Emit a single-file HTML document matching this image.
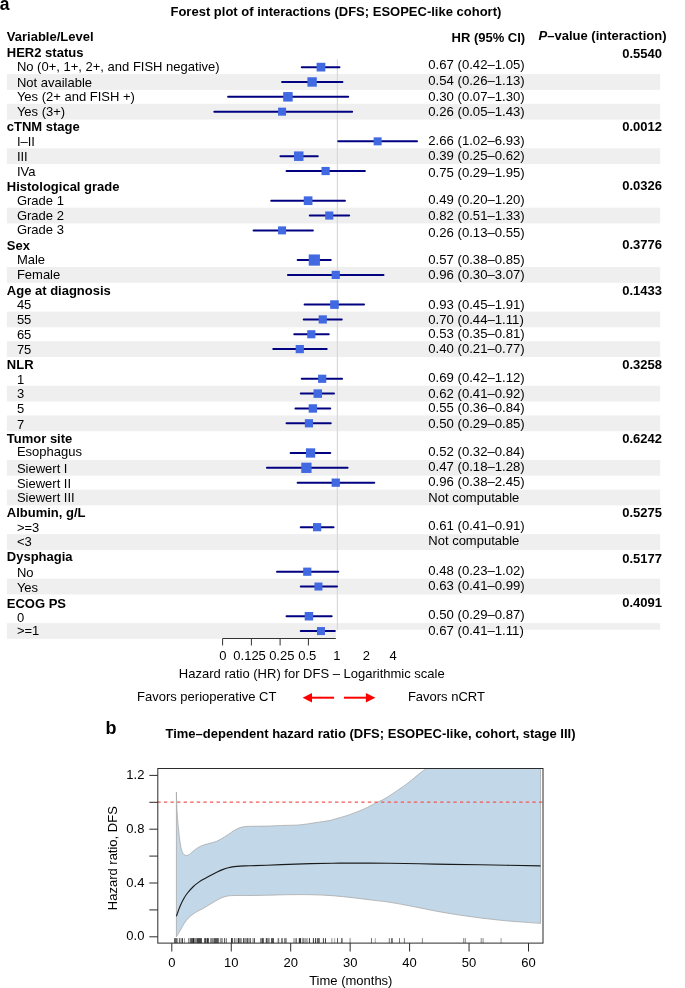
<!DOCTYPE html><html><head><meta charset="utf-8"><style>html,body{margin:0;padding:0;background:#fff;}svg{display:block}text{font-family:"Liberation Sans",sans-serif;}svg{will-change:transform;-webkit-font-smoothing:antialiased;}</style></head><body>
<svg width="685" height="988" viewBox="0 0 685 988">
<rect width="685" height="988" fill="#fff"/>
<rect x="6.86" y="74.10" width="653.34" height="15.76" fill="#efefef"/>
<rect x="6.86" y="103.78" width="653.34" height="15.76" fill="#efefef"/>
<rect x="6.86" y="148.30" width="653.34" height="15.76" fill="#efefef"/>
<rect x="6.86" y="207.66" width="653.34" height="15.76" fill="#efefef"/>
<rect x="6.86" y="267.02" width="653.34" height="15.76" fill="#efefef"/>
<rect x="6.86" y="311.54" width="653.34" height="15.76" fill="#efefef"/>
<rect x="6.86" y="341.22" width="653.34" height="15.76" fill="#efefef"/>
<rect x="6.86" y="385.74" width="653.34" height="15.76" fill="#efefef"/>
<rect x="6.86" y="415.42" width="653.34" height="15.76" fill="#efefef"/>
<rect x="6.86" y="459.94" width="653.34" height="15.76" fill="#efefef"/>
<rect x="6.86" y="489.62" width="653.34" height="15.76" fill="#efefef"/>
<rect x="6.86" y="534.14" width="653.34" height="15.76" fill="#efefef"/>
<rect x="6.86" y="578.66" width="653.34" height="15.76" fill="#efefef"/>
<rect x="6.86" y="623.18" width="328.94" height="15.62" fill="#efefef"/>
<rect x="335.8" y="623.18" width="324.40" height="6.52" fill="#efefef"/>
<line x1="337.4" y1="59.4" x2="337.4" y2="629.7" stroke="#d9d9d9" stroke-width="1.2"/>
<text x="-0.3" y="10.3" font-size="17.5" font-weight="bold">a</text>
<text x="335.9" y="15.8" font-size="13" font-weight="bold" text-anchor="middle">Forest plot of interactions (DFS; ESOPEC-like cohort)</text>
<text x="6.8" y="41.3" font-size="13" font-weight="bold">Variable/Level</text>
<text x="525.2" y="41.6" font-size="13" font-weight="bold" text-anchor="end">HR (95% CI)</text>
<text x="538.6" y="40.0" font-size="13" font-weight="bold"><tspan font-style="italic">P</tspan>–value (interaction)</text>
<text x="6.8" y="56.9" font-size="13" font-weight="bold">HER2 status</text>
<text x="662.0" y="57.6" font-size="13" font-weight="bold" text-anchor="end">0.5540</text>
<text x="16.9" y="70.7" font-size="13">No (0+, 1+, 2+, and FISH negative)</text>
<text x="428.3" y="68.6" font-size="13.15">0.67 (0.42–1.05)</text>
<text x="16.9" y="86.8" font-size="13">Not available</text>
<text x="428.3" y="84.8" font-size="13.15">0.54 (0.26–1.13)</text>
<text x="16.9" y="100.5" font-size="13">Yes (2+ and FISH +)</text>
<text x="428.3" y="100.5" font-size="13.15">0.30 (0.07–1.30)</text>
<text x="16.9" y="115.5" font-size="13">Yes (3+)</text>
<text x="428.3" y="115.7" font-size="13.15">0.26 (0.05–1.43)</text>
<text x="6.8" y="131.3" font-size="13" font-weight="bold">cTNM stage</text>
<text x="662.0" y="131.1" font-size="13" font-weight="bold" text-anchor="end">0.0012</text>
<text x="16.9" y="145.9" font-size="13">I–II</text>
<text x="428.3" y="144.8" font-size="13.15">2.66 (1.02–6.93)</text>
<text x="16.9" y="160.9" font-size="13">III</text>
<text x="428.3" y="159.6" font-size="13.15">0.39 (0.25–0.62)</text>
<text x="16.9" y="175.6" font-size="13">IVa</text>
<text x="428.3" y="176.7" font-size="13.15">0.75 (0.29–1.95)</text>
<text x="6.8" y="190.7" font-size="13" font-weight="bold">Histological grade</text>
<text x="662.0" y="190.2" font-size="13" font-weight="bold" text-anchor="end">0.0326</text>
<text x="16.9" y="204.7" font-size="13">Grade 1</text>
<text x="428.3" y="203.7" font-size="13.15">0.49 (0.20–1.20)</text>
<text x="16.9" y="219.7" font-size="13">Grade 2</text>
<text x="428.3" y="219.6" font-size="13.15">0.82 (0.51–1.33)</text>
<text x="16.9" y="234.4" font-size="13">Grade 3</text>
<text x="428.3" y="236.6" font-size="13.15">0.26 (0.13–0.55)</text>
<text x="6.8" y="249.6" font-size="13" font-weight="bold">Sex</text>
<text x="662.0" y="249.4" font-size="13" font-weight="bold" text-anchor="end">0.3776</text>
<text x="16.9" y="264.1" font-size="13">Male</text>
<text x="428.3" y="263.8" font-size="13.15">0.57 (0.38–0.85)</text>
<text x="16.9" y="279.3" font-size="13">Female</text>
<text x="428.3" y="278.6" font-size="13.15">0.96 (0.30–3.07)</text>
<text x="6.8" y="294.6" font-size="13" font-weight="bold">Age at diagnosis</text>
<text x="662.0" y="295.2" font-size="13" font-weight="bold" text-anchor="end">0.1433</text>
<text x="16.9" y="309.0" font-size="13">45</text>
<text x="428.3" y="308.8" font-size="13.15">0.93 (0.45–1.91)</text>
<text x="16.9" y="323.7" font-size="13">55</text>
<text x="428.3" y="323.6" font-size="13.15">0.70 (0.44–1.11)</text>
<text x="16.9" y="338.8" font-size="13">65</text>
<text x="428.3" y="337.7" font-size="13.15">0.53 (0.35–0.81)</text>
<text x="16.9" y="354.0" font-size="13">75</text>
<text x="428.3" y="353.2" font-size="13.15">0.40 (0.21–0.77)</text>
<text x="6.8" y="368.7" font-size="13" font-weight="bold">NLR</text>
<text x="662.0" y="368.9" font-size="13" font-weight="bold" text-anchor="end">0.3258</text>
<text x="16.9" y="383.6" font-size="13">1</text>
<text x="428.3" y="381.9" font-size="13.15">0.69 (0.42–1.12)</text>
<text x="16.9" y="398.0" font-size="13">3</text>
<text x="428.3" y="397.7" font-size="13.15">0.62 (0.41–0.92)</text>
<text x="16.9" y="413.2" font-size="13">5</text>
<text x="428.3" y="412.1" font-size="13.15">0.55 (0.36–0.84)</text>
<text x="16.9" y="428.6" font-size="13">7</text>
<text x="428.3" y="427.7" font-size="13.15">0.50 (0.29–0.85)</text>
<text x="6.8" y="443.3" font-size="13" font-weight="bold">Tumor site</text>
<text x="662.0" y="443.0" font-size="13" font-weight="bold" text-anchor="end">0.6242</text>
<text x="16.9" y="456.4" font-size="13">Esophagus</text>
<text x="428.3" y="456.1" font-size="13.15">0.52 (0.32–0.84)</text>
<text x="16.9" y="472.9" font-size="13">Siewert I</text>
<text x="428.3" y="471.2" font-size="13.15">0.47 (0.18–1.28)</text>
<text x="16.9" y="487.5" font-size="13">Siewert II</text>
<text x="428.3" y="486.1" font-size="13.15">0.96 (0.38–2.45)</text>
<text x="16.9" y="502.4" font-size="13">Siewert III</text>
<text x="428.3" y="501.6" font-size="13">Not computable</text>
<text x="6.8" y="516.8" font-size="13" font-weight="bold">Albumin, g/L</text>
<text x="662.0" y="517.2" font-size="13" font-weight="bold" text-anchor="end">0.5275</text>
<text x="16.9" y="531.5" font-size="13">&gt;=3</text>
<text x="428.3" y="530.4" font-size="13.15">0.61 (0.41–0.91)</text>
<text x="16.9" y="545.7" font-size="13">&lt;3</text>
<text x="428.3" y="544.5" font-size="13">Not computable</text>
<text x="6.8" y="560.7" font-size="13" font-weight="bold">Dysphagia</text>
<text x="662.0" y="562.8" font-size="13" font-weight="bold" text-anchor="end">0.5177</text>
<text x="16.9" y="576.8" font-size="13">No</text>
<text x="428.3" y="574.9" font-size="13.15">0.48 (0.23–1.02)</text>
<text x="16.9" y="592.0" font-size="13">Yes</text>
<text x="428.3" y="590.3" font-size="13.15">0.63 (0.41–0.99)</text>
<text x="6.8" y="607.7" font-size="13" font-weight="bold">ECOG PS</text>
<text x="662.0" y="606.8" font-size="13" font-weight="bold" text-anchor="end">0.4091</text>
<text x="16.9" y="621.6" font-size="13">0</text>
<text x="428.3" y="619.0" font-size="13.15">0.50 (0.29–0.87)</text>
<text x="16.9" y="634.8" font-size="13">&gt;=1</text>
<text x="428.3" y="634.7" font-size="13.15">0.67 (0.41–1.11)</text>
<g>
<line x1="301.77" y1="67.14" x2="339.44" y2="67.14" stroke="#000080" stroke-width="2" stroke-linecap="round"/>
<rect x="316.62" y="62.79" width="8.70" height="8.70" fill="#4169e1"/>
<line x1="282.06" y1="81.98" x2="342.45" y2="81.98" stroke="#000080" stroke-width="2" stroke-linecap="round"/>
<rect x="307.40" y="77.28" width="9.40" height="9.40" fill="#4169e1"/>
<line x1="228.13" y1="96.82" x2="348.21" y2="96.82" stroke="#000080" stroke-width="2" stroke-linecap="round"/>
<rect x="283.19" y="92.07" width="9.50" height="9.50" fill="#4169e1"/>
<line x1="214.30" y1="111.66" x2="352.13" y2="111.66" stroke="#000080" stroke-width="2" stroke-linecap="round"/>
<rect x="278.06" y="107.66" width="8.00" height="8.00" fill="#4169e1"/>
<line x1="338.24" y1="141.34" x2="417.00" y2="141.34" stroke="#000080" stroke-width="2" stroke-linecap="round"/>
<rect x="373.64" y="137.34" width="8.00" height="8.00" fill="#4169e1"/>
<line x1="280.45" y1="156.18" x2="317.78" y2="156.18" stroke="#000080" stroke-width="2" stroke-linecap="round"/>
<rect x="293.98" y="151.43" width="9.50" height="9.50" fill="#4169e1"/>
<line x1="286.55" y1="171.02" x2="364.88" y2="171.02" stroke="#000080" stroke-width="2" stroke-linecap="round"/>
<rect x="321.51" y="166.92" width="8.20" height="8.20" fill="#4169e1"/>
<line x1="271.28" y1="200.70" x2="344.92" y2="200.70" stroke="#000080" stroke-width="2" stroke-linecap="round"/>
<rect x="303.76" y="196.35" width="8.70" height="8.70" fill="#4169e1"/>
<line x1="309.75" y1="215.54" x2="349.15" y2="215.54" stroke="#000080" stroke-width="2" stroke-linecap="round"/>
<rect x="325.22" y="211.49" width="8.10" height="8.10" fill="#4169e1"/>
<line x1="253.57" y1="230.38" x2="312.86" y2="230.38" stroke="#000080" stroke-width="2" stroke-linecap="round"/>
<rect x="278.06" y="226.38" width="8.00" height="8.00" fill="#4169e1"/>
<line x1="297.66" y1="260.06" x2="330.75" y2="260.06" stroke="#000080" stroke-width="2" stroke-linecap="round"/>
<rect x="308.73" y="254.46" width="11.20" height="11.20" fill="#4169e1"/>
<line x1="287.94" y1="274.90" x2="383.53" y2="274.90" stroke="#000080" stroke-width="2" stroke-linecap="round"/>
<rect x="331.65" y="270.80" width="8.20" height="8.20" fill="#4169e1"/>
<line x1="304.61" y1="304.58" x2="364.03" y2="304.58" stroke="#000080" stroke-width="2" stroke-linecap="round"/>
<rect x="330.15" y="300.28" width="8.60" height="8.60" fill="#4169e1"/>
<line x1="303.69" y1="319.42" x2="341.72" y2="319.42" stroke="#000080" stroke-width="2" stroke-linecap="round"/>
<rect x="318.67" y="315.32" width="8.20" height="8.20" fill="#4169e1"/>
<line x1="294.28" y1="334.26" x2="328.77" y2="334.26" stroke="#000080" stroke-width="2" stroke-linecap="round"/>
<rect x="307.28" y="330.21" width="8.10" height="8.10" fill="#4169e1"/>
<line x1="273.28" y1="349.10" x2="326.69" y2="349.10" stroke="#000080" stroke-width="2" stroke-linecap="round"/>
<rect x="295.67" y="345.00" width="8.20" height="8.20" fill="#4169e1"/>
<line x1="301.77" y1="378.78" x2="342.09" y2="378.78" stroke="#000080" stroke-width="2" stroke-linecap="round"/>
<rect x="318.08" y="374.68" width="8.20" height="8.20" fill="#4169e1"/>
<line x1="300.78" y1="393.62" x2="334.00" y2="393.62" stroke="#000080" stroke-width="2" stroke-linecap="round"/>
<rect x="313.53" y="389.37" width="8.50" height="8.50" fill="#4169e1"/>
<line x1="295.44" y1="408.46" x2="330.26" y2="408.46" stroke="#000080" stroke-width="2" stroke-linecap="round"/>
<rect x="308.66" y="404.26" width="8.40" height="8.40" fill="#4169e1"/>
<line x1="286.55" y1="423.30" x2="330.75" y2="423.30" stroke="#000080" stroke-width="2" stroke-linecap="round"/>
<rect x="304.84" y="419.20" width="8.20" height="8.20" fill="#4169e1"/>
<line x1="290.60" y1="452.98" x2="330.26" y2="452.98" stroke="#000080" stroke-width="2" stroke-linecap="round"/>
<rect x="305.90" y="448.33" width="9.30" height="9.30" fill="#4169e1"/>
<line x1="266.95" y1="467.82" x2="347.58" y2="467.82" stroke="#000080" stroke-width="2" stroke-linecap="round"/>
<rect x="301.25" y="462.67" width="10.30" height="10.30" fill="#4169e1"/>
<line x1="297.66" y1="482.66" x2="374.26" y2="482.66" stroke="#000080" stroke-width="2" stroke-linecap="round"/>
<rect x="331.60" y="478.51" width="8.30" height="8.30" fill="#4169e1"/>
<line x1="300.78" y1="527.18" x2="333.55" y2="527.18" stroke="#000080" stroke-width="2" stroke-linecap="round"/>
<rect x="313.01" y="523.08" width="8.20" height="8.20" fill="#4169e1"/>
<line x1="277.02" y1="571.70" x2="338.24" y2="571.70" stroke="#000080" stroke-width="2" stroke-linecap="round"/>
<rect x="303.16" y="567.60" width="8.20" height="8.20" fill="#4169e1"/>
<line x1="300.78" y1="586.54" x2="337.02" y2="586.54" stroke="#000080" stroke-width="2" stroke-linecap="round"/>
<rect x="314.44" y="582.54" width="8.00" height="8.00" fill="#4169e1"/>
<line x1="286.55" y1="616.22" x2="331.71" y2="616.22" stroke="#000080" stroke-width="2" stroke-linecap="round"/>
<rect x="304.69" y="611.97" width="8.50" height="8.50" fill="#4169e1"/>
<line x1="300.78" y1="631.06" x2="334.80" y2="631.06" stroke="#000080" stroke-width="2" stroke-linecap="round"/>
<rect x="316.97" y="627.06" width="8.00" height="8.00" fill="#4169e1"/>
</g>
<line x1="222.6" y1="638.5" x2="335.8" y2="638.5" stroke="#333" stroke-width="1"/>
<line x1="222.6" y1="638.5" x2="222.6" y2="645.5" stroke="#333" stroke-width="1"/>
<line x1="251.4" y1="638.5" x2="251.4" y2="645.5" stroke="#333" stroke-width="1"/>
<line x1="280.1" y1="638.5" x2="280.1" y2="645.5" stroke="#333" stroke-width="1"/>
<line x1="308.4" y1="638.5" x2="308.4" y2="645.5" stroke="#333" stroke-width="1"/>
<text x="222.9" y="660.2" font-size="13" text-anchor="middle">0</text>
<text x="249.6" y="660.2" font-size="13" text-anchor="middle">0.125</text>
<text x="281.8" y="660.2" font-size="13" text-anchor="middle">0.25</text>
<text x="307.3" y="660.2" font-size="13" text-anchor="middle">0.5</text>
<text x="336.9" y="660.2" font-size="13" text-anchor="middle">1</text>
<text x="366.3" y="660.2" font-size="13" text-anchor="middle">2</text>
<text x="393.0" y="660.2" font-size="13" text-anchor="middle">4</text>
<text x="311.8" y="677.8" font-size="13" text-anchor="middle">Hazard ratio (HR) for DFS – Logarithmic scale</text>
<text x="137.0" y="700.7" font-size="13">Favors perioperative CT</text>
<text x="407.9" y="700.8" font-size="13">Favors nCRT</text>
<line x1="311" y1="697.7" x2="334.1" y2="697.7" stroke="#ff0000" stroke-width="2"/>
<polygon points="302.6,697.7 312,692.9 312,702.5" fill="#ff0000"/>
<line x1="343.9" y1="697.7" x2="367" y2="697.7" stroke="#ff0000" stroke-width="2"/>
<polygon points="375.4,697.7 365.9,692.9 365.9,702.5" fill="#ff0000"/>
<text x="105.5" y="734.3" font-size="18" font-weight="bold">b</text>
<text x="370.5" y="738.4" font-size="13" font-weight="bold" text-anchor="middle">Time–dependent hazard ratio (DFS; ESOPEC-like, cohort, stage III)</text>
<defs><clipPath id="pc"><rect x="158.3" y="769" width="384.3" height="173.6"/></clipPath></defs>
<g clip-path="url(#pc)"><path d="M176.40,792.00 C176.48,794.73 176.60,802.75 176.90,808.40 C177.20,814.05 177.70,820.45 178.20,825.90 C178.70,831.35 179.32,837.02 179.90,841.10 C180.48,845.18 181.02,848.17 181.70,850.40 C182.38,852.63 183.22,853.67 184.00,854.50 C184.78,855.33 185.52,855.40 186.40,855.40 C187.28,855.40 188.13,855.23 189.30,854.50 C190.47,853.77 191.75,852.27 193.40,851.00 C195.05,849.73 197.27,847.97 199.20,846.90 C201.13,845.83 203.05,845.25 205.00,844.60 C206.95,843.95 208.95,843.55 210.90,843.00 C212.85,842.45 214.75,842.12 216.70,841.30 C218.65,840.48 220.65,839.25 222.60,838.10 C224.55,836.95 226.47,835.67 228.40,834.40 C230.33,833.13 232.25,831.63 234.20,830.50 C236.15,829.37 238.15,828.27 240.10,827.60 C242.05,826.93 243.92,826.72 245.90,826.50 C247.88,826.28 248.50,826.37 252.00,826.30 C255.50,826.23 261.40,826.25 266.90,826.10 C272.40,825.95 279.48,825.60 285.00,825.40 C290.52,825.20 295.07,825.33 300.00,824.90 C304.93,824.47 309.73,823.52 314.60,822.80 C319.47,822.08 325.80,821.22 329.20,820.60 C332.60,819.98 331.60,820.08 335.00,819.10 C338.40,818.12 344.73,816.40 349.60,814.70 C354.47,813.00 359.58,810.97 364.20,808.90 C368.82,806.83 373.83,804.02 377.30,802.30 C380.77,800.58 381.63,800.58 385.00,798.60 C388.37,796.62 393.95,792.78 397.50,790.40 C401.05,788.02 403.38,786.48 406.30,784.30 C409.22,782.12 412.38,779.42 415.00,777.30 C417.62,775.18 420.17,773.05 422.00,771.60 C423.83,770.15 423.00,771.03 426.00,768.60 C429.00,766.17 432.67,763.43 440.00,757.00 C447.33,750.57 459.17,740.33 470.00,730.00 C480.83,719.67 493.25,707.50 505.00,695.00 C516.75,682.50 534.58,661.67 540.50,655.00 L540.50,923.40 C538.05,923.22 532.03,922.78 525.80,922.30 C519.57,921.82 510.65,921.22 503.10,920.50 C495.55,919.78 488.03,918.95 480.50,918.00 C472.97,917.05 465.43,915.97 457.90,914.80 C450.37,913.63 442.85,912.40 435.30,911.00 C427.75,909.60 420.15,907.85 412.60,906.40 C405.05,904.95 396.03,903.27 390.00,902.30 C383.97,901.33 382.32,901.33 376.40,900.60 C370.48,899.87 361.80,898.72 354.50,897.90 C347.20,897.08 339.90,896.23 332.60,895.70 C325.30,895.17 318.00,894.87 310.70,894.70 C303.40,894.53 296.10,894.62 288.80,894.70 C281.50,894.78 273.37,895.07 266.90,895.20 C260.43,895.33 254.47,895.45 250.00,895.50 C245.53,895.55 243.12,895.48 240.10,895.50 C237.08,895.52 234.23,895.47 231.90,895.60 C229.57,895.73 228.05,895.83 226.10,896.30 C224.15,896.77 222.15,897.50 220.20,898.40 C218.25,899.30 216.35,900.57 214.40,901.70 C212.45,902.83 210.45,904.03 208.50,905.20 C206.55,906.37 204.63,907.63 202.70,908.70 C200.77,909.77 198.85,910.43 196.90,911.60 C194.95,912.77 192.75,914.23 191.00,915.70 C189.25,917.17 187.77,918.73 186.40,920.40 C185.03,922.07 183.98,923.75 182.80,925.70 C181.62,927.65 180.37,930.25 179.30,932.10 C178.23,933.95 176.88,936.02 176.40,936.80 Z" fill="#c2d8e9" stroke="#a9a9a9" stroke-width="0.8"/>
<path d="M176.40,916.30 C176.70,915.43 177.52,912.95 178.20,911.10 C178.88,909.25 179.53,907.35 180.50,905.20 C181.47,903.05 182.83,900.23 184.00,898.20 C185.17,896.17 185.93,894.95 187.50,893.00 C189.07,891.05 191.45,888.35 193.40,886.50 C195.35,884.65 197.27,883.25 199.20,881.90 C201.13,880.55 203.05,879.52 205.00,878.40 C206.95,877.28 208.95,876.22 210.90,875.20 C212.85,874.18 214.75,873.23 216.70,872.30 C218.65,871.37 220.65,870.37 222.60,869.60 C224.55,868.83 226.47,868.20 228.40,867.70 C230.33,867.20 232.25,866.87 234.20,866.60 C236.15,866.33 237.47,866.23 240.10,866.10 C242.73,865.97 245.53,865.95 250.00,865.80 C254.47,865.65 260.43,865.43 266.90,865.20 C273.37,864.97 281.50,864.67 288.80,864.40 C296.10,864.13 303.40,863.80 310.70,863.60 C318.00,863.40 325.30,863.28 332.60,863.20 C339.90,863.12 344.93,863.10 354.50,863.10 C364.07,863.10 376.53,863.03 390.00,863.20 C403.47,863.37 420.22,863.83 435.30,864.10 C450.38,864.37 462.97,864.50 480.50,864.80 C498.03,865.10 530.50,865.72 540.50,865.90" fill="none" stroke="#1a1a1a" stroke-width="1.15"/>
</g>
<line x1="157.3" y1="802.1" x2="543" y2="802.1" stroke="#f75555" stroke-width="1.45" stroke-dasharray="3.35 3.23"/>
<rect x="174.00" y="938.1" width="3.60" height="5" fill="#666"/>
<rect x="178.90" y="938.1" width="1.00" height="5" fill="#555"/>
<rect x="179.90" y="938.1" width="1.80" height="5" fill="#bbb"/>
<rect x="181.70" y="938.1" width="1.30" height="5" fill="#444"/>
<rect x="184.00" y="938.1" width="0.80" height="5" fill="#888"/>
<rect x="188.10" y="938.1" width="1.00" height="5" fill="#888"/>
<rect x="189.10" y="938.1" width="1.00" height="5" fill="#bbb"/>
<rect x="190.10" y="938.1" width="2.90" height="5" fill="#555"/>
<rect x="193.00" y="938.1" width="1.50" height="5" fill="#222"/>
<rect x="194.50" y="938.1" width="2.50" height="5" fill="#888"/>
<rect x="197.00" y="938.1" width="4.90" height="5" fill="#444"/>
<rect x="204.20" y="938.1" width="1.80" height="5" fill="#444"/>
<rect x="206.50" y="938.1" width="2.30" height="5" fill="#333"/>
<rect x="210.10" y="938.1" width="3.60" height="5" fill="#888"/>
<rect x="213.70" y="938.1" width="5.10" height="5" fill="#555"/>
<rect x="219.80" y="938.1" width="3.10" height="5" fill="#999"/>
<rect x="224.20" y="938.1" width="1.00" height="5" fill="#333"/>
<rect x="226.00" y="938.1" width="1.00" height="5" fill="#888"/>
<rect x="231.00" y="938.1" width="1.80" height="5" fill="#333"/>
<rect x="233.90" y="938.1" width="1.20" height="5" fill="#777"/>
<rect x="235.10" y="938.1" width="1.90" height="5" fill="#bbb"/>
<rect x="237.70" y="938.1" width="1.30" height="5" fill="#333"/>
<rect x="239.00" y="938.1" width="2.80" height="5" fill="#888"/>
<rect x="243.10" y="938.1" width="1.00" height="5" fill="#333"/>
<rect x="244.10" y="938.1" width="2.60" height="5" fill="#999"/>
<rect x="246.70" y="938.1" width="1.80" height="5" fill="#555"/>
<rect x="248.50" y="938.1" width="1.30" height="5" fill="#aaa"/>
<rect x="249.80" y="938.1" width="1.00" height="5" fill="#444"/>
<rect x="252.00" y="938.1" width="1.80" height="5" fill="#bbb"/>
<rect x="253.80" y="938.1" width="1.10" height="5" fill="#444"/>
<rect x="260.00" y="938.1" width="2.00" height="5" fill="#888"/>
<rect x="262.00" y="938.1" width="1.80" height="5" fill="#444"/>
<rect x="265.80" y="938.1" width="1.10" height="5" fill="#333"/>
<rect x="266.90" y="938.1" width="2.80" height="5" fill="#888"/>
<rect x="271.00" y="938.1" width="3.00" height="5" fill="#555"/>
<rect x="277.60" y="938.1" width="1.60" height="5" fill="#777"/>
<rect x="281.00" y="938.1" width="2.00" height="5" fill="#888"/>
<rect x="284.00" y="938.1" width="2.80" height="5" fill="#888"/>
<rect x="293.00" y="938.1" width="2.50" height="5" fill="#bbb"/>
<rect x="295.50" y="938.1" width="1.50" height="5" fill="#777"/>
<rect x="298.80" y="938.1" width="2.30" height="5" fill="#333"/>
<rect x="302.20" y="938.1" width="2.00" height="5" fill="#888"/>
<rect x="304.20" y="938.1" width="3.60" height="5" fill="#aaa"/>
<rect x="308.90" y="938.1" width="1.00" height="5" fill="#333"/>
<rect x="312.90" y="938.1" width="1.10" height="5" fill="#444"/>
<rect x="315.00" y="938.1" width="1.00" height="5" fill="#444"/>
<rect x="316.80" y="938.1" width="3.00" height="5" fill="#666"/>
<rect x="322.90" y="938.1" width="1.00" height="5" fill="#444"/>
<rect x="325.00" y="938.1" width="1.00" height="5" fill="#444"/>
<rect x="331.00" y="938.1" width="1.60" height="5" fill="#bbb"/>
<rect x="333.90" y="938.1" width="1.30" height="5" fill="#bbb"/>
<rect x="337.00" y="938.1" width="1.00" height="5" fill="#555"/>
<rect x="341.10" y="938.1" width="1.50" height="5" fill="#666"/>
<rect x="349.60" y="938.1" width="1.00" height="5" fill="#888"/>
<rect x="371.00" y="938.1" width="1.00" height="5" fill="#777"/>
<rect x="374.80" y="938.1" width="1.00" height="5" fill="#aaa"/>
<rect x="388.80" y="938.1" width="1.00" height="5" fill="#777"/>
<rect x="391.20" y="938.1" width="1.50" height="5" fill="#555"/>
<rect x="399.00" y="938.1" width="1.00" height="5" fill="#777"/>
<rect x="403.90" y="938.1" width="1.00" height="5" fill="#777"/>
<rect x="421.90" y="938.1" width="1.00" height="5" fill="#888"/>
<rect x="463.20" y="938.1" width="1.00" height="5" fill="#888"/>
<rect x="464.80" y="938.1" width="1.00" height="5" fill="#888"/>
<rect x="480.70" y="938.1" width="1.00" height="5" fill="#888"/>
<rect x="482.60" y="938.1" width="1.00" height="5" fill="#888"/>
<rect x="500.60" y="938.1" width="1.00" height="5" fill="#999"/>
<rect x="157.8" y="768.5" width="385.2" height="174.6" fill="none" stroke="#2b2b2b" stroke-width="1"/>
<line x1="149.3" y1="936.80" x2="157.8" y2="936.80" stroke="#2b2b2b" stroke-width="1"/>
<line x1="149.3" y1="909.90" x2="157.8" y2="909.90" stroke="#2b2b2b" stroke-width="1"/>
<line x1="149.3" y1="883.00" x2="157.8" y2="883.00" stroke="#2b2b2b" stroke-width="1"/>
<line x1="149.3" y1="856.10" x2="157.8" y2="856.10" stroke="#2b2b2b" stroke-width="1"/>
<line x1="149.3" y1="829.20" x2="157.8" y2="829.20" stroke="#2b2b2b" stroke-width="1"/>
<line x1="149.3" y1="802.30" x2="157.8" y2="802.30" stroke="#2b2b2b" stroke-width="1"/>
<line x1="149.3" y1="775.40" x2="157.8" y2="775.40" stroke="#2b2b2b" stroke-width="1"/>
<text x="144.4" y="940.40" font-size="13" text-anchor="end">0.0</text>
<text x="144.4" y="886.60" font-size="13" text-anchor="end">0.4</text>
<text x="144.4" y="832.80" font-size="13" text-anchor="end">0.8</text>
<text x="144.4" y="779.00" font-size="13" text-anchor="end">1.2</text>
<line x1="171.80" y1="943.1" x2="171.80" y2="951.5" stroke="#2b2b2b" stroke-width="1"/>
<text x="171.80" y="966.5" font-size="13" text-anchor="middle">0</text>
<line x1="231.25" y1="943.1" x2="231.25" y2="951.5" stroke="#2b2b2b" stroke-width="1"/>
<text x="231.25" y="966.5" font-size="13" text-anchor="middle">10</text>
<line x1="290.70" y1="943.1" x2="290.70" y2="951.5" stroke="#2b2b2b" stroke-width="1"/>
<text x="290.70" y="966.5" font-size="13" text-anchor="middle">20</text>
<line x1="350.15" y1="943.1" x2="350.15" y2="951.5" stroke="#2b2b2b" stroke-width="1"/>
<text x="350.15" y="966.5" font-size="13" text-anchor="middle">30</text>
<line x1="409.60" y1="943.1" x2="409.60" y2="951.5" stroke="#2b2b2b" stroke-width="1"/>
<text x="409.60" y="966.5" font-size="13" text-anchor="middle">40</text>
<line x1="469.05" y1="943.1" x2="469.05" y2="951.5" stroke="#2b2b2b" stroke-width="1"/>
<text x="469.05" y="966.5" font-size="13" text-anchor="middle">50</text>
<line x1="528.50" y1="943.1" x2="528.50" y2="951.5" stroke="#2b2b2b" stroke-width="1"/>
<text x="528.50" y="966.5" font-size="13" text-anchor="middle">60</text>
<text x="350.8" y="984.7" font-size="13" text-anchor="middle">Time (months)</text>
<text transform="translate(116.8,858.2) rotate(-90)" x="0" y="0" font-size="13" text-anchor="middle">Hazard ratio, DFS</text>
</svg></body></html>
